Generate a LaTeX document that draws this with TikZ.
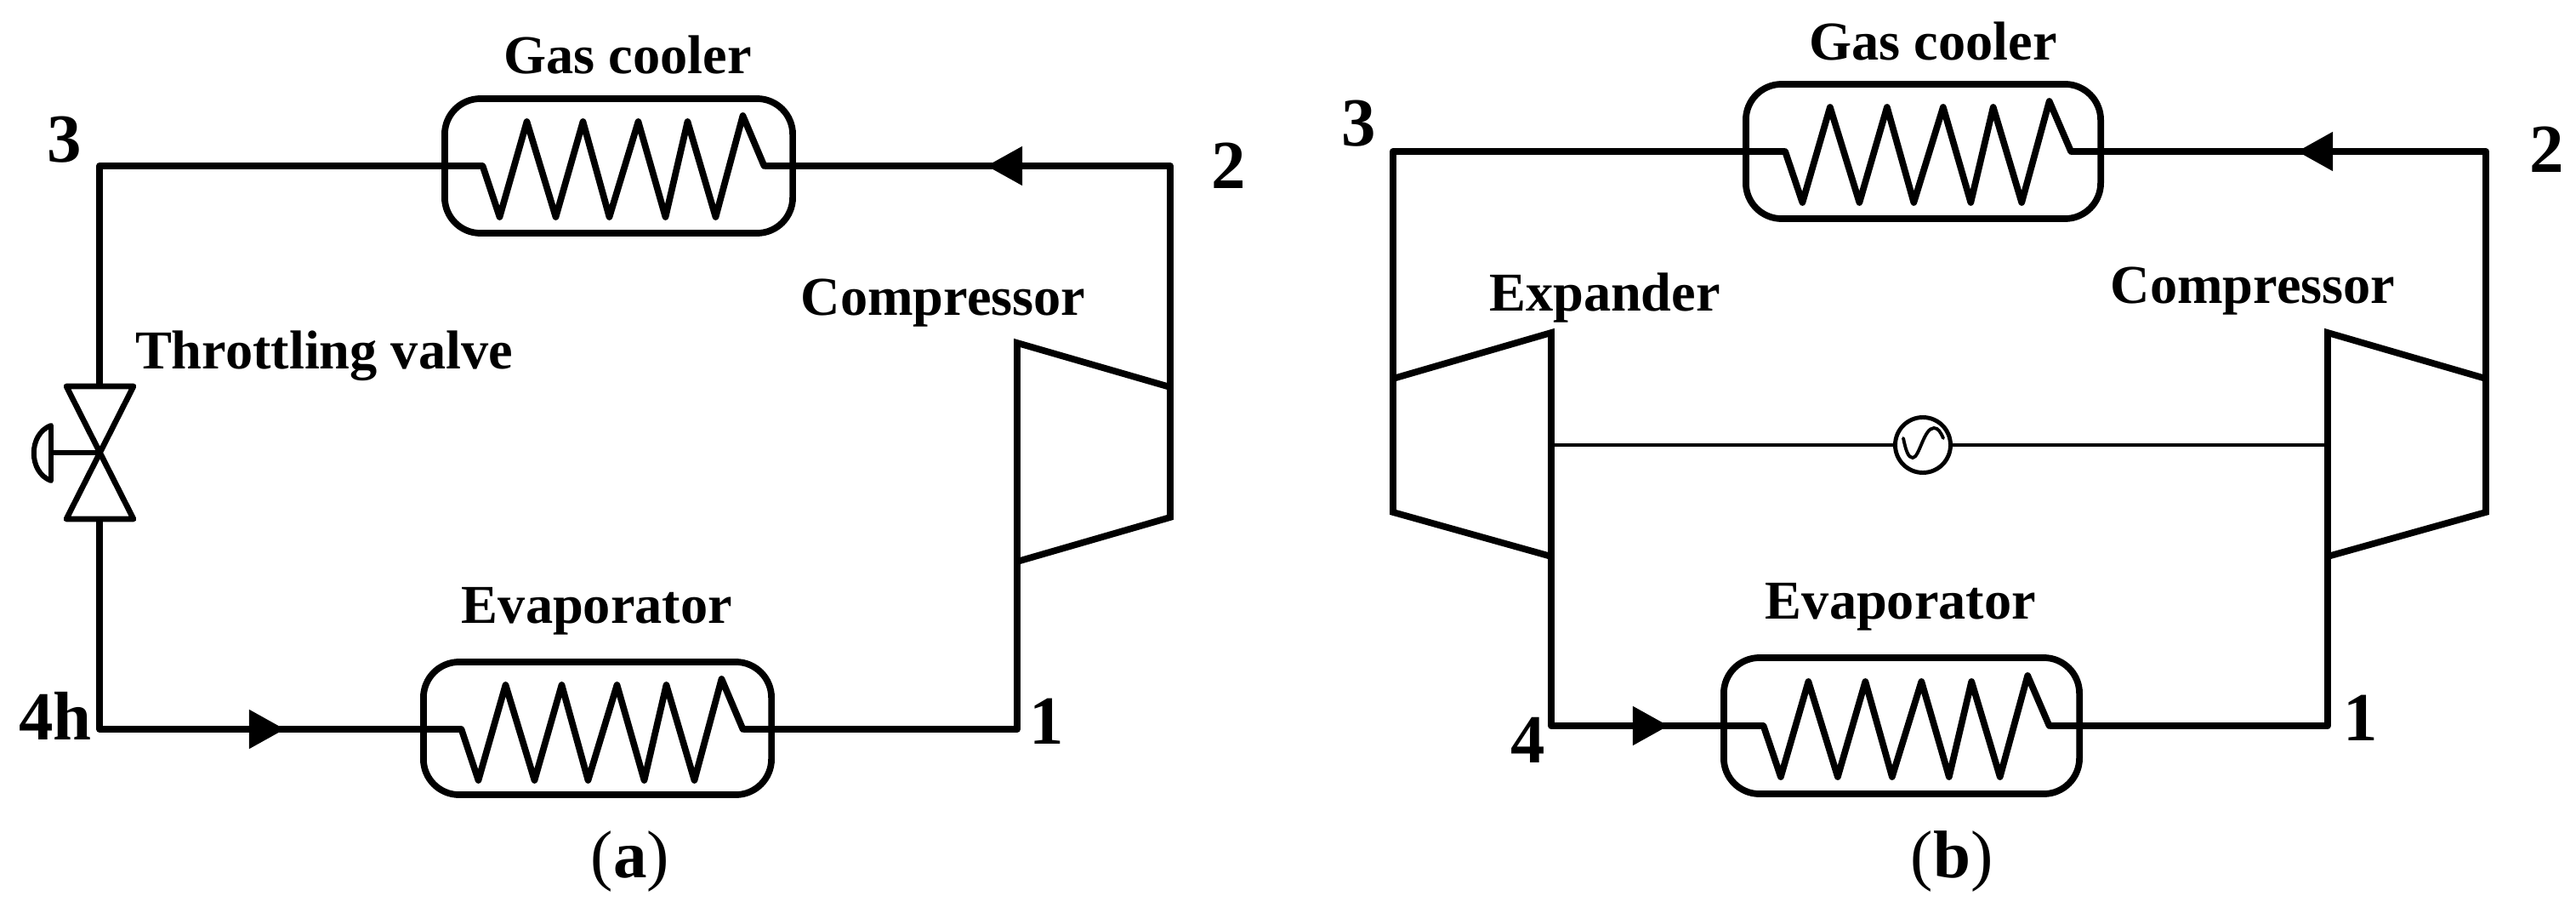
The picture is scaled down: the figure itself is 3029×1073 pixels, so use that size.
\documentclass[tikz,border=0pt]{standalone}
\usepackage{fontspec}
\setmainfont{Liberation Serif}
\usetikzlibrary{arrows.meta}
\tikzset{
  pipe/.style={line width=2.3pt,line join=round,line cap=butt},
  body/.style={line width=2.2pt,line join=miter},
  shaft/.style={line width=1.4pt},
  hx/.style={draw,line width=2.2pt,rounded corners=0.42cm,rectangle,inner sep=0pt},
  lbl/.style={font=\bfseries\fontsize{18.3}{20}\selectfont,inner sep=0pt},
  num/.style={font=\bfseries\fontsize{23}{25}\selectfont,inner sep=0pt},
  figcap/.style={font=\fontsize{22.5}{24}\selectfont,inner sep=0pt},
  flowtip/.style={-{Triangle[length=0.42cm,width=0.44cm]}},
  coil/.pic={
    \coordinate (-in) at (-160,0);
    \coordinate (-out) at (171,0);
    \draw[line width=2.2pt,line join=round,line cap=round]
      (-in) -- (-140,60) -- (-108,-52) -- (-74,60) -- (-42,-52) -- (-11,60)
      -- (23,-52) -- (55,60) -- (81,-52) -- (114,60) -- (146,-59) -- (-out);
  }
}
\begin{document}
\begin{tikzpicture}[x=0.01cm,y=-0.01cm]
\path[use as bounding box,fill=white] (0,0) rectangle (3029,1073);

% ---------- (a) ----------
\node[hx,minimum width=4.09cm,minimum height=1.58cm] (gca) at (727.5,195) {};
\node[hx,minimum width=4.09cm,minimum height=1.56cm] (eva) at (702.5,856) {};
\pic (cga) at (727.5,195) {coil};
\pic (cea) at (702.5,857) {coil};

\coordinate (a3) at (117,195);
\coordinate (a2) at (1376,195);
\coordinate (a4) at (117,857);
\coordinate (a1) at (1196,857);
\coordinate (aTipTop) at (1160,195);
\coordinate (aTipBot) at (335,857);
\coordinate (vTop) at (117,454);
\coordinate (vBot) at (117,610);
\coordinate (vMid) at (117,532);
\coordinate (vTL) at (78,454);
\coordinate (vTR) at (157,454);
\coordinate (vBL) at (78,610);
\coordinate (vBR) at (157,610);
\coordinate (hStem) at (60,532);
\coordinate (hTop) at (60,500);
\coordinate (hBot) at (60,565);
\coordinate (cTL) at (1196,403);
\coordinate (cTR) at (1376,455);
\coordinate (cBR) at (1376,608);
\coordinate (cBL) at (1196,660);

\draw[pipe] (cga-in) -- (a3) -- (vTop);
\draw[pipe] (vBot) -- (a4) -- (aTipBot);
\draw[pipe,flowtip] (a4) -- (aTipBot);
\draw[pipe] (aTipBot) -- (cea-in);
\draw[pipe] (cea-out) -- (a1) -- (cBL);
\draw[pipe] (cTR) -- (a2) -- (aTipTop);
\draw[pipe,flowtip] (a2) -- (aTipTop);
\draw[pipe] (aTipTop) -- (cga-out);
\draw[body] (cTL) -- (cTR) -- (cBR) -- (cBL) -- cycle;
\draw[line width=1.9pt,line join=round] (vTL) -- (vTR) -- (vBL) -- (vBR) -- cycle;
\draw[line width=1.7pt] (hStem) -- (vMid);
\draw[line width=1.7pt,line join=round] (hTop) .. controls (33,510) and (33,555) .. (hBot) -- cycle;

\node[lbl] (tgca) at (738,64) {Gas cooler};
\node[lbl] (teva) at (702,718) {Evaporator};
\node[lbl] (tcoa) at (1109,356) {Compressor};
\node[lbl] (tval) at (381,418) {Throttling valve};
\node[num] (n3a) at (76,164) {3};
\node[num] (n2a) at (1445,195) {2};
\node[num] (n4h) at (65,841) {4h};
\node[num] (n1a) at (1231,848) {1};
\node[figcap] (capa) at (741,1012) {(\textbf{a})};

% ---------- (b) ----------
\node[hx,minimum width=4.17cm,minimum height=1.58cm] (gcb) at (2261.5,178) {};
\node[hx,minimum width=4.18cm,minimum height=1.60cm] (evb) at (2236,853) {};
\pic[xscale=1.015] (cgb) at (2261.5,178) {coil};
\pic[xscale=1.015] (ceb) at (2236,853) {coil};

\coordinate (b3) at (1638,178);
\coordinate (b2) at (2923,178);
\coordinate (b4) at (1824,853);
\coordinate (b1) at (2737,853);
\coordinate (bTipTop) at (2701,178);
\coordinate (bTipBot) at (1962,853);
\coordinate (eTL) at (1638,445);
\coordinate (eTR) at (1824,391);
\coordinate (eBR) at (1824,654);
\coordinate (eBL) at (1638,602);
\coordinate (kTL) at (2737,391);
\coordinate (kTR) at (2923,445);
\coordinate (kBR) at (2923,602);
\coordinate (kBL) at (2737,654);
\coordinate (sL) at (1824,523);
\coordinate (sR) at (2737,523);

\draw[pipe] (cgb-in) -- (b3) -- (eTL);
\draw[pipe] (eBR) -- (b4) -- (bTipBot);
\draw[pipe,flowtip] (b4) -- (bTipBot);
\draw[pipe] (bTipBot) -- (ceb-in);
\draw[pipe] (ceb-out) -- (b1) -- (kBL);
\draw[pipe] (kTR) -- (b2) -- (bTipTop);
\draw[pipe,flowtip] (b2) -- (bTipTop);
\draw[pipe] (bTipTop) -- (cgb-out);
\draw[body] (eTL) -- (eTR) -- (eBR) -- (eBL) -- cycle;
\draw[body] (kTL) -- (kTR) -- (kBR) -- (kBL) -- cycle;

\node[circle,draw,line width=1.4pt,minimum size=0.65cm,inner sep=0pt] (gen) at (2261,523) {};
\draw[shaft] (sL) -- (gen);
\draw[shaft] (gen) -- (sR);
\draw[line width=1.1pt,line cap=round] (2238,515) .. controls (2241,530) and (2244,538) .. (2249,538)
   .. controls (2257,538) and (2262,503) .. (2274,503)
   .. controls (2279,503) and (2282,508) .. (2285,515);

\node[lbl] (tgcb) at (2273,48) {Gas cooler};
\node[lbl] (tevb) at (2235,713) {Evaporator};
\node[lbl] (texp) at (1887,350) {Expander};
\node[lbl] (tcob) at (2649,342) {Compressor};
\node[num] (n3b) at (1598,145) {3};
\node[num] (n2b) at (2995,176) {2};
\node[num] (n4b) at (1797,870) {4};
\node[num] (n1b) at (2776,844) {1};
\node[figcap] (capb) at (2295,1012) {(\textbf{b})};
\end{tikzpicture}
\end{document}
